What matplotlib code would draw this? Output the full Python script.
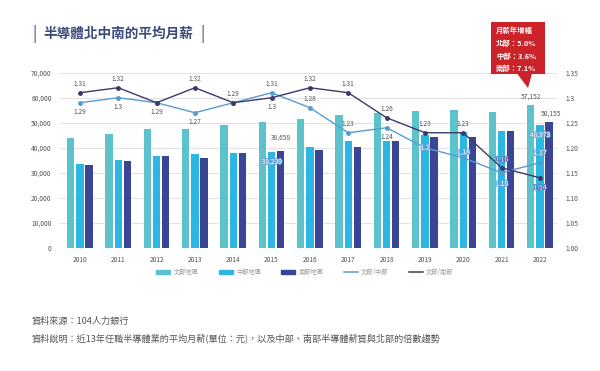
import matplotlib
matplotlib.use("Agg")
import matplotlib.pyplot as plt
import matplotlib.patheffects as pe
from matplotlib.patches import Rectangle, Polygon
import matplotlib.lines as mlines
import matplotlib.patches as mpatches
import numpy as np

plt.rcParams['font.family'] = ['Noto Sans CJK TC', 'DejaVu Sans']

years = ['2010', '2011', '2012', '2013', '2014', '2015', '2016', '2017', '2018', '2019', '2020', '2021', '2022']
north = [44000, 45600, 47500, 47500, 49100, 50255, 51600, 52900, 53700, 54500, 55100, 54200, 57152]
central = [33700, 35100, 36800, 37500, 37800, 38239, 40300, 42900, 42900, 45100, 46500, 46900, 48973]
south = [33300, 34700, 36800, 36000, 37800, 38658, 39100, 40300, 42900, 44400, 44400, 46700, 50155]
ratio_nc = [1.29, 1.30, 1.29, 1.27, 1.29, 1.31, 1.28, 1.23, 1.24, 1.20, 1.18, 1.15, 1.17]
ratio_ns = [1.31, 1.32, 1.29, 1.32, 1.29, 1.30, 1.32, 1.31, 1.26, 1.23, 1.23, 1.16, 1.14]
nc_labels = ['1.29', '1.3', '', '1.27', '', '1.31', '1.28', '1.23', '1.24', '1.2', '1.18', '1.15', '1.17']
ns_labels = ['1.31', '1.32', '1.29', '1.32', '1.29', '1.3', '1.32', '1.31', '1.26', '1.23', '1.23', '1.16', '1.14']
legend_labels = ['北部地區', '中部地區', '南部地區', '北部/中部', '北部/南部']
left_ticks = [0, 10000, 20000, 30000, 40000, 50000, 60000, 70000]
right_ticks = [1.00, 1.05, 1.10, 1.15, 1.20, 1.25, 1.30, 1.35]
right_tick_labels = ['1.00', '1.05', '1.10', '1.15', '1.20', '1.25', '1.3', '1.35']
title = '半導體北中南的平均月薪'
callout = ['月薪年增幅', '北部：5.0%', '中部：3.6%', '南部：7.1%']
source = '資料來源：104人力銀行'
note = '資料說明：近13年任職半導體業的平均月薪(單位：元)，以及中部、南部半導體薪資與北部的倍數趨勢'

c_n = '#5cc3cc'
c_c = '#2bb6e3'
c_s = '#3a4596'
c_lnc = '#5a9bcf'
c_lns = '#3b3b6b'
grey = '#555555'

fig = plt.figure(figsize=(6, 3.71), dpi=100)
ax = fig.add_axes([0.1, 0.332, 0.828, 0.472])
ax2 = ax.twinx()

x = np.arange(len(years))
w = 0.19
off = 0.24
ax.bar(x - off, north, w, color=c_n, label=legend_labels[0], zorder=2)
ax.bar(x, central, w, color=c_c, label=legend_labels[1], zorder=2)
ax.bar(x + off, south, w, color=c_s, label=legend_labels[2], zorder=2)

ax.set_ylim(0, 70000)
ax.set_xlim(-0.52, 12.44)
ax.set_yticks(left_ticks)
ax.set_yticklabels([f'{v:,}' for v in left_ticks])
ax.set_xticks(x)
ax.set_xticklabels(years)
ax.grid(axis='y', color='#e3e3e3', linewidth=0.8, zorder=0)
ax.set_axisbelow(True)
for s in ax.spines.values():
    s.set_visible(False)
for s in ax2.spines.values():
    s.set_visible(False)
ax.tick_params(axis='both', length=0, labelsize=4.8, colors='#555555', pad=6)

ax2.set_ylim(1.00, 1.35)
ax2.set_yticks(right_ticks)
ax2.set_yticklabels(right_tick_labels)
ax2.tick_params(axis='y', length=0, labelsize=4.8, colors='#555555', pad=6)

l1, = ax2.plot(x, ratio_nc, color=c_lnc, lw=1.0, marker='o', ms=2.5, label=legend_labels[3], zorder=3)
l2, = ax2.plot(x, ratio_ns, color=c_lns, lw=1.0, marker='o', ms=2.5, label=legend_labels[4], zorder=4)

nc_off = [-7, -7, 0, -7, 0, 6, 6, 6, -7, 0, 4, -8, 7]
nc_white = [False] * 9 + [True, True, True, True]
ns_off = [6, 6, -7, 6, 6, -7, 6, 6, 6, 6, 6, 6, -7]
ns_white = [False] * 11 + [True, True]

def put(axx, xv, yv, txt, dy, white, col):
    if not txt:
        return
    kw = dict(ha='center', va='center', fontsize=4.8, zorder=6)
    if white:
        axx.annotate(txt, (xv, yv), xytext=(0, dy), textcoords='offset points', color='white',
                     path_effects=[pe.withStroke(linewidth=1.1, foreground=col)], **kw)
    else:
        axx.annotate(txt, (xv, yv), xytext=(0, dy), textcoords='offset points', color=grey, **kw)

for i in range(len(x)):
    put(ax2, x[i], ratio_nc[i], nc_labels[i], nc_off[i], nc_white[i], '#6fa6d6')
    put(ax2, x[i], ratio_ns[i], ns_labels[i], ns_off[i], ns_white[i], '#5a6aa8')

put(ax, x[5] + off, south[5], f'{south[5]:,}', 10, False, c_s)
put(ax, x[5], central[5], f'{central[5]:,}', -7, True, '#6fa6d6')
put(ax, x[12] - off, north[12], f'{north[12]:,}', 6, False, c_n)
put(ax, x[12], central[12], f'{central[12]:,}', -7, True, '#6fa6d6')
put(ax, x[12] + off + 0.05, south[12], f'{south[12]:,}', 6, False, c_s)

handles = [mpatches.Patch(color=c_n), mpatches.Patch(color=c_c), mpatches.Patch(color=c_s),
           mlines.Line2D([], [], color=c_lnc, lw=1.1), mlines.Line2D([], [], color=c_lns, lw=1.1)]
fig.legend(handles, legend_labels, loc='center', bbox_to_anchor=(305 / 600, 1 - 272 / 371), ncol=5,
           frameon=False, fontsize=4.5, labelcolor='#9a9a9a', handlelength=2.2, handleheight=0.6,
           columnspacing=3.2, handletextpad=0.6)

tcol = '#3d4a7c'
fig.text(32 / 600, 1 - 34 / 371, '|', fontsize=11, color=tcol, va='center', ha='left')
fig.text(43 / 600, 1 - 34 / 371, title, fontsize=9.8, color=tcol, va='center', ha='left', fontweight='bold')
fig.text(200 / 600, 1 - 34 / 371, '|', fontsize=11, color=tcol, va='center', ha='left')

red = '#cc2229'
W, H = 600, 371
fig.patches.append(Rectangle((491 / W, 1 - 74 / H), 54 / W, 52 / H, transform=fig.transFigure,
                             facecolor=red, edgecolor='none'))
fig.patches.append(Polygon([(517 / W, 1 - 73.5 / H), (532 / W, 1 - 73.5 / H), (528 / W, 1 - 88 / H)],
                           closed=True, transform=fig.transFigure, facecolor=red, edgecolor='none'))
for t, yy in zip(callout, [30, 43, 56, 68]):
    fig.text(496 / W, 1 - yy / H, t, fontsize=5.3, color='white', va='center', ha='left', fontweight='bold')

fig.text(32 / W, 1 - 321 / H, source, fontsize=6.6, color='#555555', va='center', ha='left')
fig.text(32 / W, 1 - 338 / H, note, fontsize=6.6, color='#555555', va='center', ha='left')

fig.savefig('out.png', dpi=100, facecolor='white')
